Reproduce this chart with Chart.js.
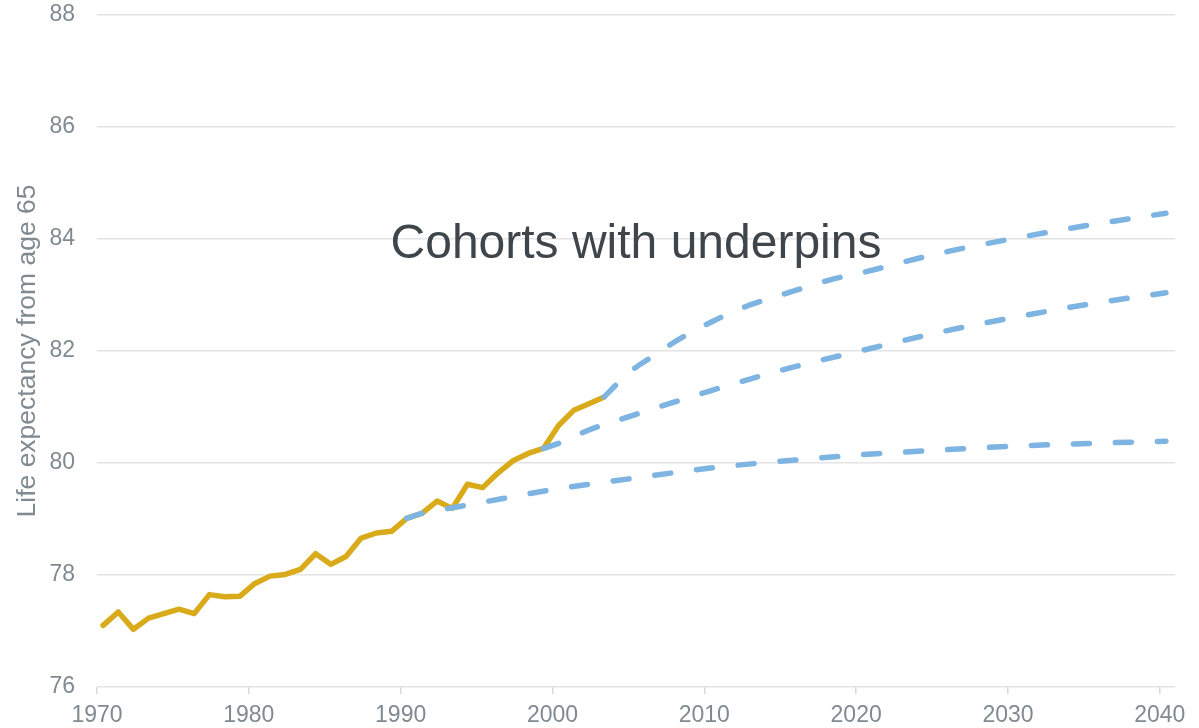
<!DOCTYPE html>
<html>
<head>
<meta charset="utf-8">
<script src="https://cdn.jsdelivr.net/npm/chart.js@4/dist/chart.umd.min.js"></script>
<style>
  html, body { margin: 0; padding: 0; background: #ffffff; }
  #wrap { width: 1199px; height: 728px; position: relative; }
</style>
</head>
<body>
<div id="wrap"><canvas id="c"></canvas></div>
<script>
// ---- data ----
const observedYears = [1970,1971,1972,1973,1974,1975,1976,1977,1978,1979,
  1980,1981,1982,1983,1984,1985,1986,1987,1988,1989,
  1990,1991,1992,1993,1994,1995,1996,1997,1998,1999,
  2000,2001,2002,2003];
const observedValues = [77.10,77.34,77.03,77.23,77.31,77.39,77.31,77.65,77.61,77.62,
  77.85,77.98,78.01,78.10,78.38,78.19,78.33,78.66,78.75,78.78,
  79.01,79.10,79.32,79.19,79.62,79.56,79.82,80.04,80.17,80.26,
  80.67,80.94,81.06,81.18];

const cohort1990Years  = [1990,1991,1993,1995,2000,2005,2010,2015,2020,2025,2030,2035,2040];
const cohort1990Values = [79.01,79.10,79.20,79.30,79.54,79.73,79.91,80.04,80.15,80.23,80.30,80.35,80.39];

const cohort1999Years  = [1999,2000,2002,2005,2010,2015,2020,2025,2030,2035,2040];
const cohort1999Values = [80.26,80.35,80.59,80.86,81.29,81.68,82.01,82.33,82.60,82.84,83.04];

const cohort2003Years  = [2003,2004,2005,2006,2008,2010,2012,2015,2018,2020,2025,2030,2035,2040];
const cohort2003Values = [81.18,81.45,81.69,81.87,82.22,82.51,82.76,83.03,83.28,83.40,83.74,84.01,84.25,84.46];

const xTickYears = [1970,1980,1990,2000,2010,2020,2030,2040];
const yTicks = [76,78,80,82,84,86,88];

const annotationText = "Cohorts with underpins";
const yAxisTitle = "Life expectancy from age 65";

// mid-year plotting offset for annual figures
const MID_YEAR = 0.4;

const toPoints = (xs, ys) => xs.map((x, i) => ({ x: x + MID_YEAR, y: ys[i] }));

const GOLD = '#d9ab1b';
const BLUE = '#7db4e1';
const TICK_GREY = '#808a91';
const GRID = '#e4e4e4';
const FONT = '"Liberation Sans", Arial, sans-serif';

const dashed = (data) => ({
  data,
  borderColor: BLUE,
  borderWidth: 5.5,
  borderDash: [16, 26],
  borderCapStyle: 'round',
  borderJoinStyle: 'round',
  pointRadius: 0,
  cubicInterpolationMode: 'monotone',
  fill: false
});

const annotationPlugin = {
  id: 'annot',
  afterDatasetsDraw(chart) {
    const { ctx, scales } = chart;
    const x = scales.x.getPixelForValue(2005.5);
    const y = scales.y.getPixelForValue(83.66);
    ctx.save();
    ctx.font = '48px ' + FONT;
    ctx.fillStyle = '#3f464b';
    ctx.textAlign = 'center';
    ctx.textBaseline = 'alphabetic';
    ctx.fillText(annotationText, x, y);
    ctx.restore();
  }
};

new Chart(document.getElementById('c'), {
  type: 'line',
  data: {
    datasets: [
      dashed(toPoints(cohort1990Years, cohort1990Values)),
      dashed(toPoints(cohort1999Years, cohort1999Values)),
      dashed(toPoints(cohort2003Years, cohort2003Values)),
      {
        data: toPoints(observedYears, observedValues),
        borderColor: GOLD,
        borderWidth: 5.5,
        borderJoinStyle: 'round',
        borderCapStyle: 'round',
        pointRadius: 0,
        tension: 0,
        fill: false
      }
    ]
  },
  options: {
    responsive: true,
    maintainAspectRatio: false,
    animation: false,
    layout: { padding: { top: 15, right: 24, left: 0, bottom: 0 } },
    plugins: { legend: { display: false }, tooltip: { enabled: false } },
    scales: {
      x: {
        type: 'linear',
        min: 1970,
        max: 2041,
        afterBuildTicks: (s) => { s.ticks = xTickYears.map(v => ({ value: v })); },
        afterFit: (s) => { s.height = 41; },
        border: { display: false },
        grid: {
          drawOnChartArea: false,
          drawTicks: true,
          tickLength: 7,
          color: '#d9d9d9',
          lineWidth: 1.5
        },
        ticks: {
          color: TICK_GREY,
          padding: 8,
          maxRotation: 0,
          font: { family: FONT, size: 23 },
          callback: (v) => String(v)
        }
      },
      y: {
        min: 76,
        max: 88,
        afterBuildTicks: (s) => { s.ticks = yTicks.map(v => ({ value: v })); },
        afterFit: (s) => { s.width = 97; s.paddingTop = 0; s.paddingBottom = 0; },
        border: { display: false },
        grid: {
          drawTicks: false,
          color: GRID,
          lineWidth: 1.6
        },
        ticks: {
          color: TICK_GREY,
          padding: 22,
          font: { family: FONT, size: 23 }
        },
        title: {
          display: true,
          text: yAxisTitle,
          color: TICK_GREY,
          padding: { top: 12, bottom: 0 },
          font: { family: FONT, size: 26.5 }
        }
      }
    }
  },
  plugins: [annotationPlugin]
});
</script>
</body>
</html>
